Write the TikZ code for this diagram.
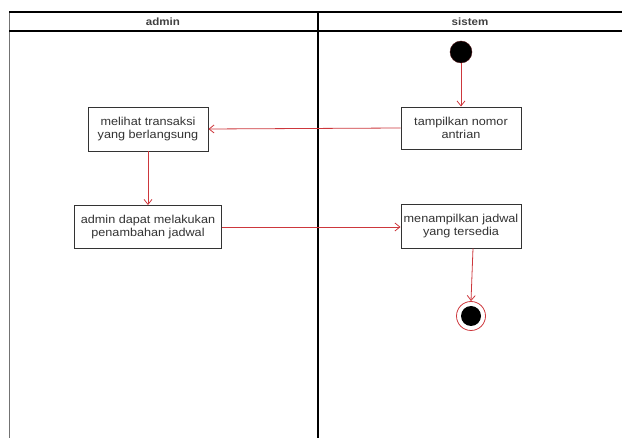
\documentclass[tikz,border=0pt]{standalone}
\usepackage{fontspec}
\setmainfont{Liberation Sans}
\newfontfamily\widesans[FakeStretch=1.1]{Liberation Sans}
\usetikzlibrary{arrows.meta}
\definecolor{flowred}{RGB}{205,55,60}
\begin{document}
\begin{tikzpicture}[x=1pt,y=-1pt,
  act/.style={draw=black!80,line width=0.9pt,fill=white,minimum width=120pt,minimum height=42pt,
    align=center,inner sep=1pt,font=\widesans\fontsize{11.5}{13.5}\selectfont,text=black!80},
  flow/.style={draw=flowred,line width=0.8pt,-{Straight Barb[length=5pt,width=8pt]}},
  lane/.style={draw=black,line width=1.4pt},
  head/.style={font=\widesans\fontsize{10.5}{12}\selectfont\bfseries,text=black!75}]
\useasboundingbox (0,0) rectangle (622,438);
% swimlane frame
\draw[black!55,line width=0.6pt] (9,12) -- (9,438);
\draw[lane] (9,12) -- (622,12);
\draw[lane] (9,31) -- (622,31);
\draw[lane] (318,12) -- (318,438);
\node[head] (hadmin) at (163,22) {admin};
\node[head] (hsistem) at (470,22) {sistem};
% activities
\node[circle,fill=black,draw=flowred!40!black,minimum size=22pt,inner sep=0pt] (start) at (461,52) {};
\node[act] (tampil) at (461,128) {tampilkan nomor\\antrian};
\node[act,minimum height=44pt] (lihat) at (148,129) {melihat transaksi\\yang berlangsung};
\node[act,minimum width=147pt,minimum height=43pt] (tambah) at (148,227) {admin dapat melakukan\\penambahan jadwal};
\node[act,minimum height=44pt] (jadwal) at (461,226) {menampilkan jadwal\\yang tersedia};
\node[circle,draw=flowred,line width=0.8pt,minimum size=29pt,inner sep=0pt] (end) at (471,316) {};
\node[circle,fill=black,minimum size=20pt,inner sep=0pt] (endin) at (end.center) {};
% transitions
\draw[flow] (start) -- (tampil);
\draw[flow] (tampil.west) -- (lihat.east);
\draw[flow] (lihat) -- (tambah);
\draw[flow] (tambah.east) -- (jadwal.west |- tambah.east);
\draw[flow] ([xshift=12pt]jadwal.south) -- (end.north);
\end{tikzpicture}
\end{document}
